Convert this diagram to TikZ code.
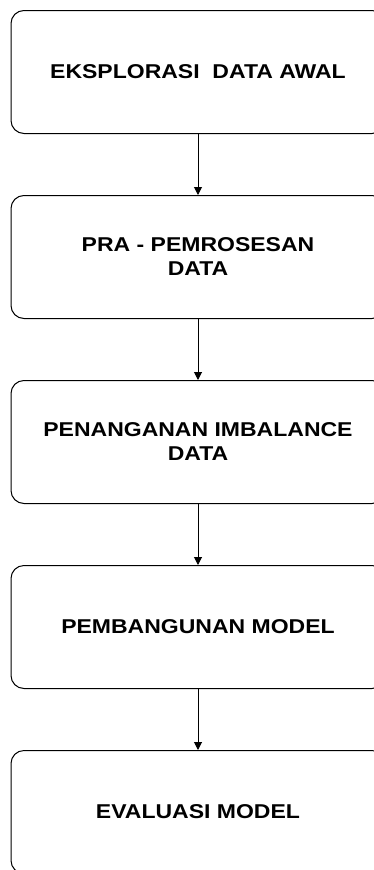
\documentclass[tikz,border=0pt]{standalone}
\usepackage{fontspec}
\setmainfont[FakeStretch=1.15]{Liberation Sans}
\usetikzlibrary{arrows.meta, positioning}

\begin{document}
\begin{tikzpicture}[x=1pt,y=1pt,node distance=185pt,on grid,
    >={Triangle[length=8pt,width=8pt]}]
      \tikzstyle{every node}=[font=\fontsize{20}{24}\selectfont\bfseries]
      \tikzstyle{stage}=[draw,line width=1pt,rounded corners=13pt,
        minimum width=374pt,minimum height=123pt,align=center]
      \useasboundingbox (0,0) rectangle (373,-870);

      \node[stage](eksplorasi) at (198,-72) {EKSPLORASI\ \ DATA AWAL};
      \node[stage](praproses)[below=of eksplorasi]{PRA - PEMROSESAN\\DATA};
      \node[stage](imbalance)[below=of praproses]{PENANGANAN IMBALANCE\\DATA};
      \node[stage](pembangunan)[below=of imbalance]{PEMBANGUNAN MODEL};
      \node[stage](evaluasi)[below=of pembangunan]{EVALUASI MODEL};
      \path[->,line width=1pt]
      (eksplorasi) edge (praproses)
      (praproses) edge (imbalance)
      (imbalance) edge (pembangunan)
      (pembangunan) edge (evaluasi);
\end{tikzpicture}
\end{document}
